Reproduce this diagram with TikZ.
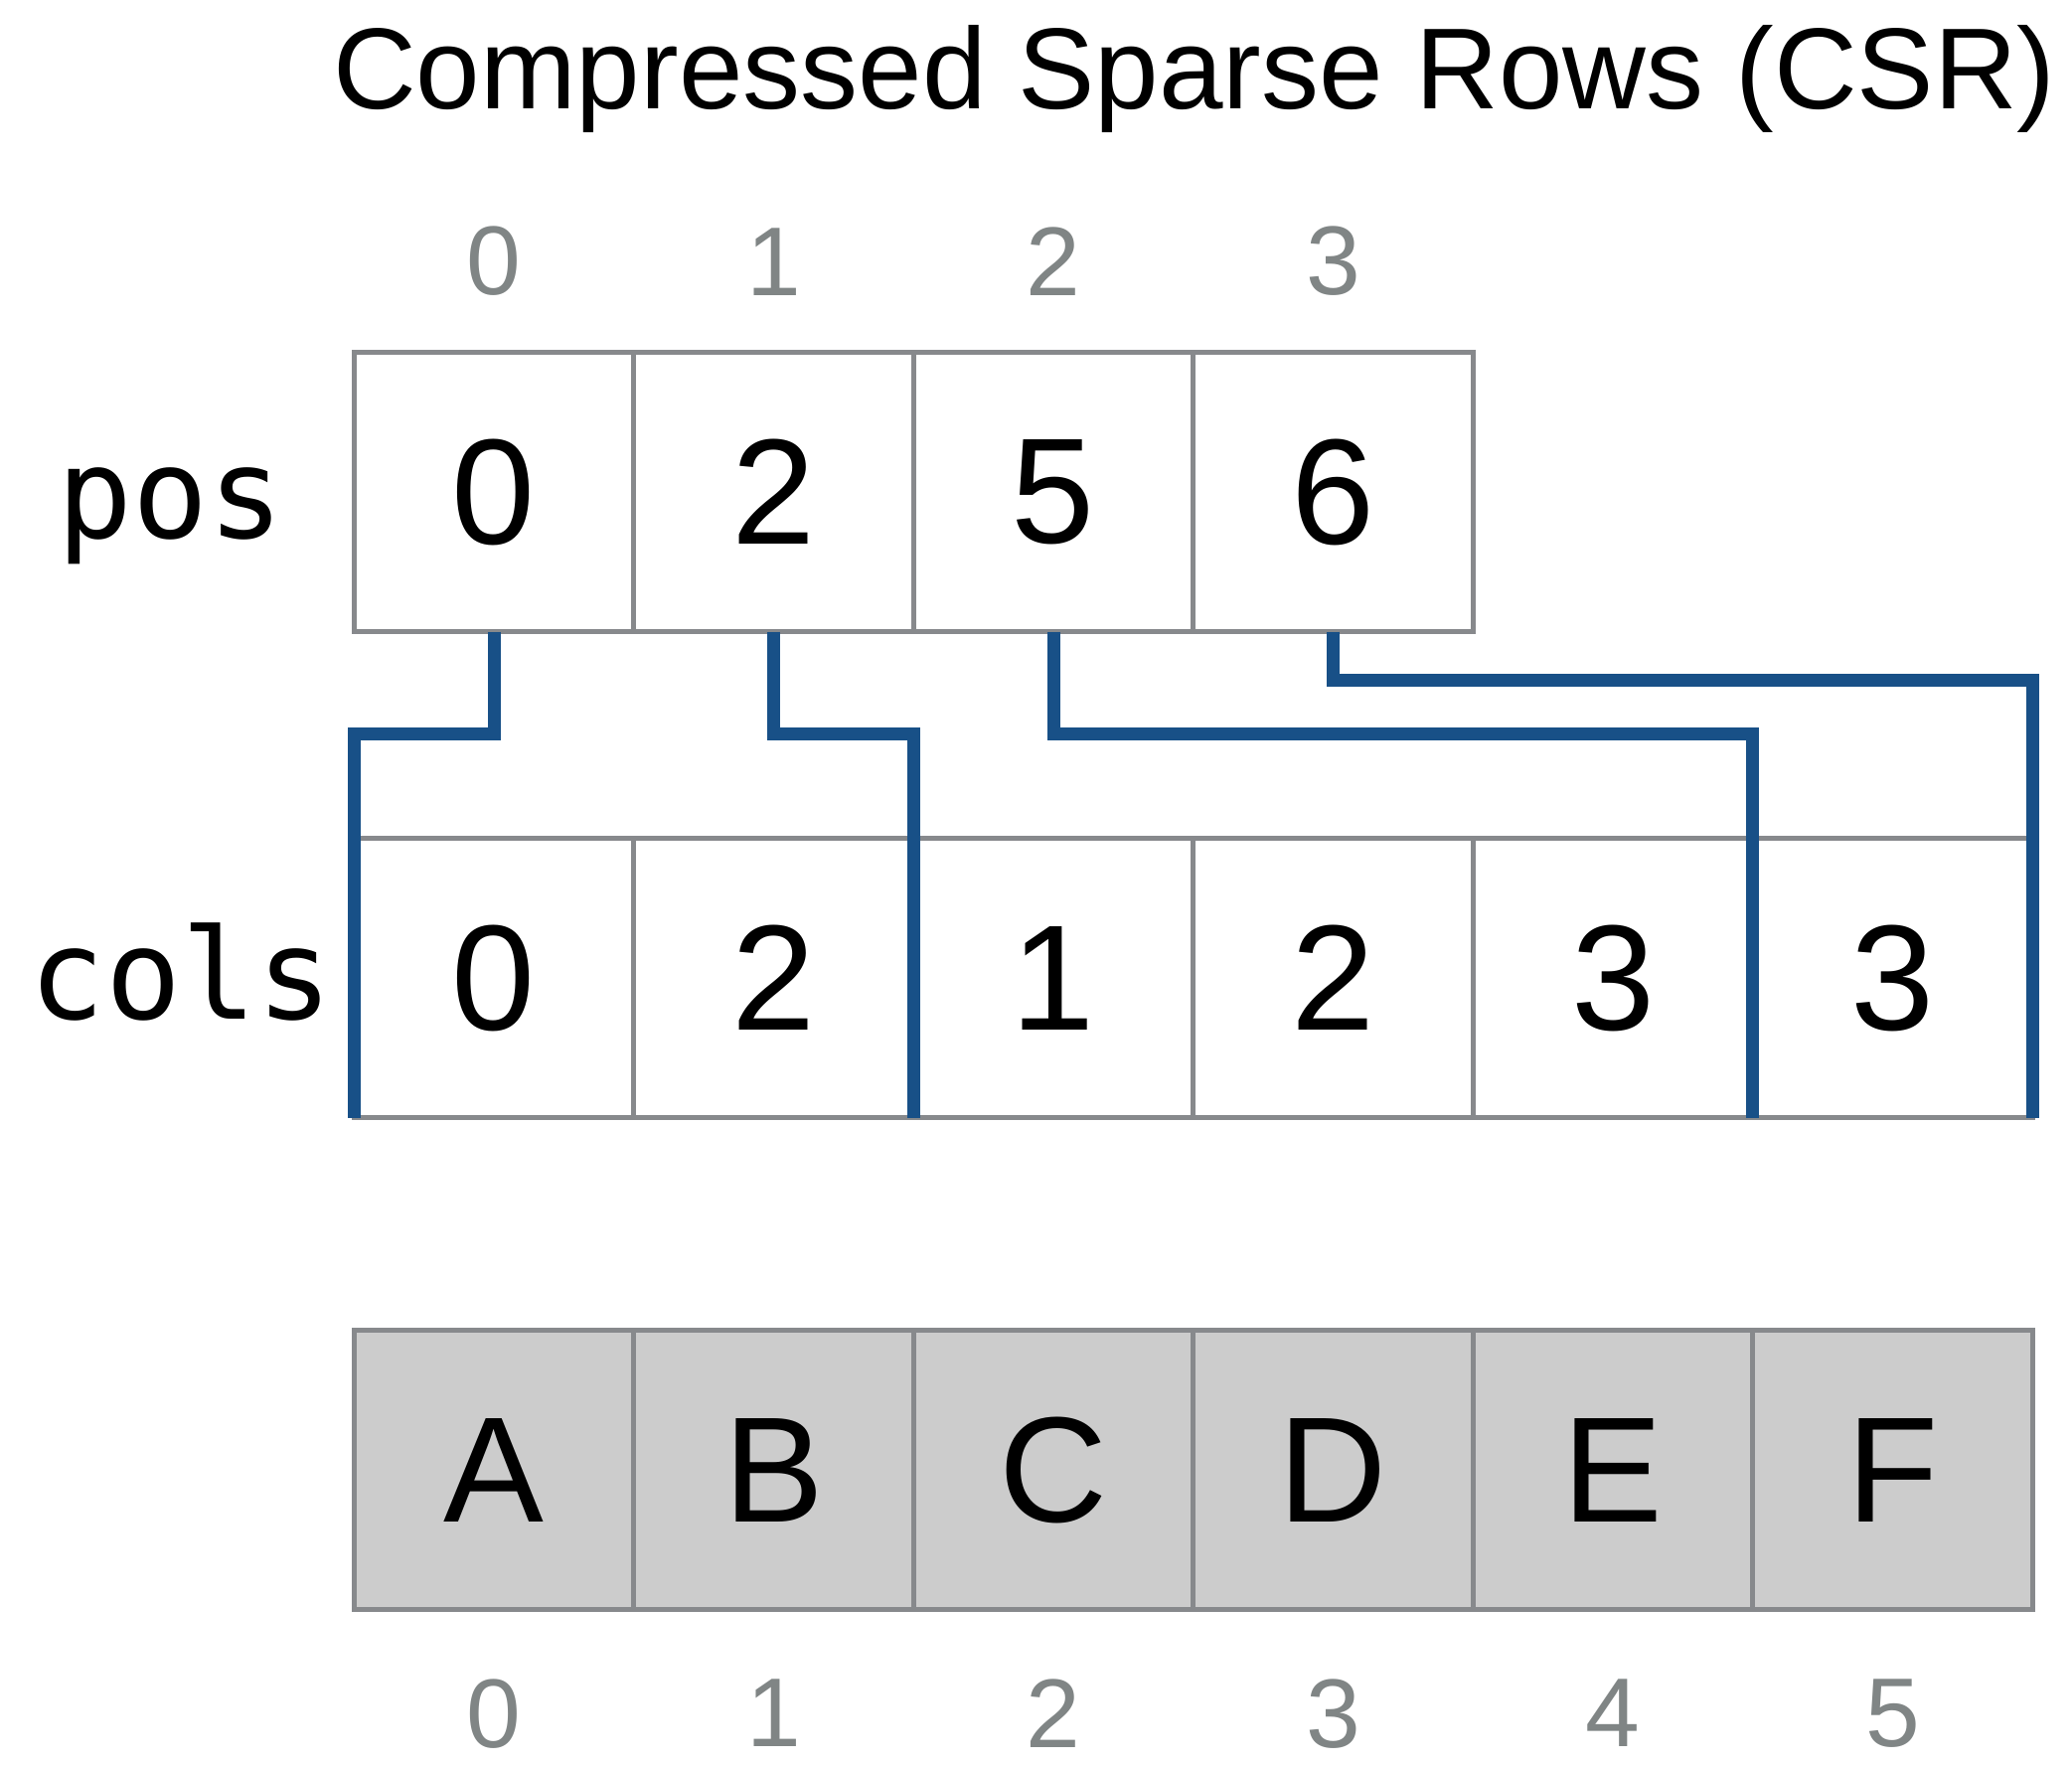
\documentclass[tikz,border=0pt]{standalone}
\usepackage{fontspec}
\setmainfont{Liberation Sans}
\newfontfamily\codefont{DejaVu Sans Mono}
\usepackage{tikz}
\usetikzlibrary{positioning}

\definecolor{cellgray}{RGB}{135,137,140}
\definecolor{valfill}{RGB}{204,204,204}
\definecolor{idxgray}{RGB}{128,133,133}
\definecolor{linkblue}{RGB}{24,80,135}

\begin{document}
\begin{tikzpicture}[
  x=1mm, y=1mm,
  cell/.style={draw=cellgray, line width=0.47mm, minimum size=28.15mm, inner sep=0pt, outer sep=0pt,
               font=\fontsize{43}{50}\selectfont},
  valcell/.style={cell, fill=valfill},
  idx/.style={inner sep=0pt, text=idxgray, font=\fontsize{28}{32}\selectfont},
  arrname/.style={inner sep=0pt, font=\codefont\fontsize{36}{42}\selectfont},
  link/.style={draw=linkblue, line width=1.3mm}
]
  \useasboundingbox (0,0) rectangle (208.5,-177.6);
  \node[anchor=base, font=\fontsize{33}{38}\selectfont] (title) at (120.2,-10.9) {Compressed Sparse Rows (CSR)};

  % pos array
  \node[cell] (p0) at (49.7,-49.5) {0};
  \node[cell, right=0pt of p0] (p1) {2};
  \node[cell, right=0pt of p1] (p2) {5};
  \node[cell, right=0pt of p2] (p3) {6};
  \node[arrname, left=7.0mm of p0, yshift=-2.4mm] (posname) {pos};
  \node[idx, above=5.6mm of p0] (pi0) {0};
  \node[idx, above=5.6mm of p1] (pi1) {1};
  \node[idx, above=5.6mm of p2] (pi2) {2};
  \node[idx, above=5.6mm of p3] (pi3) {3};

  % cols array
  \node[cell] (c0) at (49.7,-98.4) {0};
  \node[cell, right=0pt of c0] (c1) {2};
  \node[cell, right=0pt of c1] (c2) {1};
  \node[cell, right=0pt of c2] (c3) {2};
  \node[cell, right=0pt of c3] (c4) {3};
  \node[cell, right=0pt of c4] (c5) {3};
  \node[arrname, left=2.1mm of c0, yshift=0.6mm] (colsname) {cols};

  % values
  \node[valcell] (v0) at (49.7,-147.9) {A};
  \node[valcell, right=0pt of v0] (v1) {B};
  \node[valcell, right=0pt of v1] (v2) {C};
  \node[valcell, right=0pt of v2] (v3) {D};
  \node[valcell, right=0pt of v3] (v4) {E};
  \node[valcell, right=0pt of v4] (v5) {F};
  \node[idx, below=6.9mm of v0] (vi0) {0};
  \node[idx, below=6.9mm of v1] (vi1) {1};
  \node[idx, below=6.9mm of v2] (vi2) {2};
  \node[idx, below=6.9mm of v3] (vi3) {3};
  \node[idx, below=6.9mm of v4] (vi4) {4};
  \node[idx, below=6.9mm of v5] (vi5) {5};

  % row links
  \draw[link] (p0.south) -- ++(0,-10.3) -| (c0.south west);
  \draw[link] (p1.south) -- ++(0,-10.3) -| (c2.south west);
  \draw[link] (p2.south) -- ++(0,-10.3) -| (c5.south west);
  \draw[link] (p3.south) -- ++(0,-4.9) -| (c5.south east);
\end{tikzpicture}
\end{document}
